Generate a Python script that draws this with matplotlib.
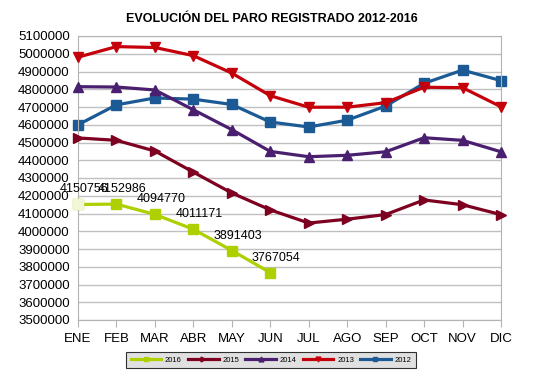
import matplotlib.pyplot as plt
from matplotlib.ticker import MultipleLocator, FuncFormatter

plt.rcParams['font.family'] = ['Liberation Sans', 'DejaVu Sans']

months = ['ENE', 'FEB', 'MAR', 'ABR', 'MAY', 'JUN', 'JUL', 'AGO', 'SEP', 'OCT', 'NOV', 'DIC']

paro_2012 = [4599829, 4712098, 4750867, 4744235, 4714122, 4615269,
             4587455, 4625634, 4705279, 4833521, 4907817, 4848723]
paro_2013 = [4980778, 5040222, 5035243, 4989193, 4890928, 4763680,
             4698814, 4698783, 4724355, 4811383, 4808908, 4701338]
paro_2014 = [4814435, 4812486, 4795866, 4684301, 4572385, 4449701,
             4419860, 4427930, 4447650, 4526804, 4512153, 4447711]
paro_2015 = [4525691, 4512116, 4451939, 4333016, 4215585, 4120304,
             4046276, 4067955, 4094042, 4176369, 4149298, 4093508]
paro_2016 = [4150756, 4152986, 4094770, 4011171, 3891403, 3767054]

fig = plt.figure(figsize=(5.44, 3.85), dpi=100)
ax = fig.add_axes([78 / 544, 1 - 320 / 385, (501 - 78) / 544, (320 - 36) / 385])

x = list(range(len(months)))
lw = 2.3
ms = 7
ax.plot(x[:len(paro_2016)], paro_2016, color='#aecf00', lw=lw, marker='s', ms=ms, label='2016', zorder=6)
# first 2016 point appears highlighted (pale) in the original
ax.plot(x[0], paro_2016[0], color='#f2f5d8', marker='s', ms=ms, lw=0, zorder=6)
ax.plot(x, paro_2015, color='#7e0021', lw=lw, marker='>', ms=ms, label='2015', zorder=5)
ax.plot(x, paro_2014, color='#4b1f6f', lw=lw, marker='^', ms=ms, label='2014', zorder=4)
ax.plot(x, paro_2013, color='#c5000b', lw=lw, marker='v', ms=ms, label='2013', zorder=3)
ax.plot(x, paro_2012, color='#1c5a96', lw=lw, marker='s', ms=ms, label='2012', zorder=2)

for i, v in enumerate(paro_2016):
    ax.annotate(str(v), (i, v), xytext=(6, 15), textcoords='offset pixels',
                ha='center', va='center', fontsize=9, color='black', zorder=7)

ax.set_xlim(0, 11)
ax.set_ylim(3500000, 5100000)
ax.yaxis.set_major_locator(MultipleLocator(100000))
ax.yaxis.set_major_formatter(FuncFormatter(lambda v, p: '%d' % v))
ax.set_xticks(x)
ax.set_xticklabels(months)
ax.grid(axis='y', color='#c0c0c0', lw=1)
ax.set_axisbelow(True)
for s in ax.spines.values():
    s.set_color('#b3b3b3')
ax.tick_params(axis='y', length=0, labelsize=9.5, pad=6)
ax.tick_params(axis='x', length=5, color='#b3b3b3', labelsize=9.5, pad=4, direction='out')
for line in ax.get_lines():
    line.set_clip_on(False)

fig.text(272 / 544, 1 - 19 / 385, 'EVOLUCIÓN DEL PARO REGISTRADO 2012-2016',
         fontsize=9, fontweight='bold', ha='center', va='center')

handles = [h for h in ax.get_lines() if not h.get_label().startswith('_')]
leg = fig.legend(handles=handles, loc='center', bbox_to_anchor=(271 / 544, 1 - 360 / 385), ncol=5,
                 fontsize=5.5, frameon=True, fancybox=False, handlelength=4, markerscale=0.5,
                 columnspacing=0.8, handletextpad=0.5, borderpad=0.6)
leg.get_frame().set_facecolor('#d9d9d9')
leg.get_frame().set_edgecolor('black')
leg.get_frame().set_linewidth(0.8)

fig.savefig('out.png', dpi=100)
